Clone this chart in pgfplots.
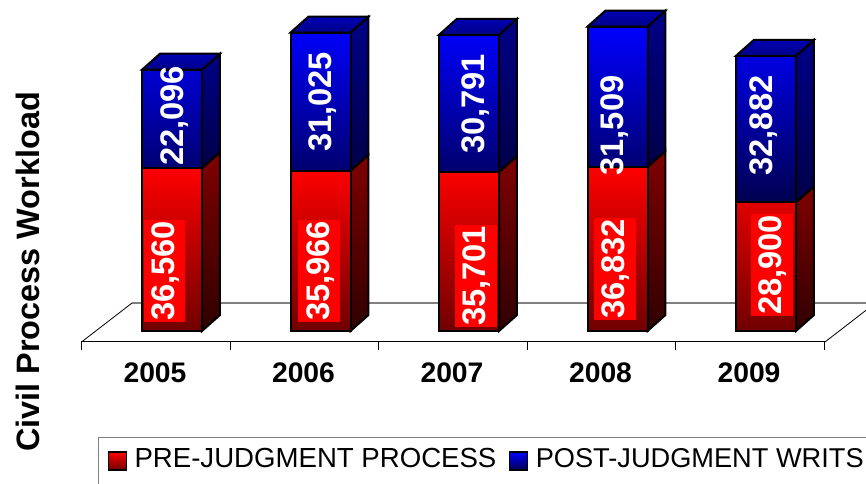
\documentclass[border=0pt]{standalone}
\usepackage{fontspec}
\setmainfont{Liberation Sans}
\usepackage{pgfplots}
\pgfplotsset{compat=1.18}
\usepackage{pgfplotstable}

\definecolor{redtop}{HTML}{FF0000}
\definecolor{redmid}{HTML}{D00000}
\definecolor{redbot}{HTML}{700000}
\definecolor{redsidetop}{HTML}{800000}
\definecolor{redsidebot}{HTML}{300000}
\definecolor{bluetop}{HTML}{0000FF}
\definecolor{bluemid}{HTML}{0000B4}
\definecolor{bluebot}{HTML}{000050}
\definecolor{bluesidetop}{HTML}{000088}
\definecolor{bluesidebot}{HTML}{000048}

% front faces
\pgfplotstableread{
x red blue
0 36560 22096
1 35966 31025
2 35701 30791
3 36832 31509
4 28900 32882
}\civildata

% label positions (x, y) and printed value
\pgfplotstableread{
x y label
-0.049 13470 36,560
0.990 13470 35,966
2.047 12392 35,701
2.983 13919 36,832
4.040 14817 28,900
}\redlabels
\pgfplotstableread{
x y label
0.013 48268 22,096
1.006 51411 31,025
2.034 50962 30,791
2.976 46135 31,509
3.973 46135 32,882
}\bluelabels

\pgfplotsset{
  base/.style={
    scale only axis,
    width=557.6pt,
    height=256.5pt,
    xmin=-0.6094, xmax=4.397,
    ymin=-2470, ymax=74310,
    clip=false,
  },
  redside/.style={draw=black, line width=1.5pt, line join=miter, top color=redsidetop, bottom color=redsidebot, forget plot},
  blueside/.style={draw=black, line width=1.5pt, line join=miter, top color=bluesidetop, bottom color=bluesidebot, forget plot},
  bluecap/.style={draw=black, line width=1.5pt, line join=miter, top color=bluemid, bottom color=bluesidetop, forget plot},
  vlabel/.style={
    draw=none, mark=none, forget plot,
    point meta=explicit symbolic,
    nodes near coords,
    every node near coord/.style={
      anchor=center, rotate=90, text=white,
      font=\fontsize{24.5}{26}\bfseries\selectfont,
      text height=23pt, text depth=8pt, inner xsep=0pt, inner ysep=0pt,
      text width=76.5pt, align=center, #1
    },
  },
}

\begin{document}
\begin{tikzpicture}
\useasboundingbox (-61.125pt,-106.5pt) rectangle (588.375pt,256.5pt);

% floor and the depth of the bars
\begin{axis}[base, hide axis]
\addplot[gray, line width=0.8pt, forget plot] coordinates {(-0.269,6286) (4.737,6286)};
\addplot[black, line width=0.6pt, forget plot] coordinates {(-0.6094,-2470) (-0.269,6286)};
\addplot[black, line width=0.6pt, forget plot] coordinates {(4.397,-2470) (4.737,6286)};

\addplot[redside] coordinates {(0.202,0) (0.323,3592) (0.323,40152) (0.202,36560)} -- cycle;
\addplot[redside] coordinates {(1.202,0) (1.323,3592) (1.323,39558) (1.202,35966)} -- cycle;
\addplot[redside] coordinates {(2.202,0) (2.323,3592) (2.323,39293) (2.202,35701)} -- cycle;
\addplot[redside] coordinates {(3.202,0) (3.323,3592) (3.323,40424) (3.202,36832)} -- cycle;
\addplot[redside] coordinates {(4.202,0) (4.323,3592) (4.323,32492) (4.202,28900)} -- cycle;

\addplot[blueside] coordinates {(0.202,36560) (0.323,40152) (0.323,62248) (0.202,58656)} -- cycle;
\addplot[blueside] coordinates {(1.202,35966) (1.323,39558) (1.323,70583) (1.202,66991)} -- cycle;
\addplot[blueside] coordinates {(2.202,35701) (2.323,39293) (2.323,70084) (2.202,66492)} -- cycle;
\addplot[blueside] coordinates {(3.202,36832) (3.323,40424) (3.323,71933) (3.202,68341)} -- cycle;
\addplot[blueside] coordinates {(4.202,28900) (4.323,32492) (4.323,65374) (4.202,61782)} -- cycle;

\addplot[bluecap] coordinates {(-0.202,58656) (-0.081,62248) (0.323,62248) (0.202,58656)} -- cycle;
\addplot[bluecap] coordinates {(0.798,66991) (0.919,70583) (1.323,70583) (1.202,66991)} -- cycle;
\addplot[bluecap] coordinates {(1.798,66492) (1.919,70084) (2.323,70084) (2.202,66492)} -- cycle;
\addplot[bluecap] coordinates {(2.798,68341) (2.919,71933) (3.323,71933) (3.202,68341)} -- cycle;
\addplot[bluecap] coordinates {(3.798,61782) (3.919,65374) (4.323,65374) (4.202,61782)} -- cycle;
\end{axis}

% stacked front faces, x axis and legend
\begin{axis}[base,
  ybar stacked,
  bar width=45pt,
  axis x line*=bottom,
  axis y line*=left,
  y axis line style={draw=none},
  ytick=\empty,
  x axis line style={-, line width=0.75pt, black},
  xtick={0,1,2,3,4},
  xticklabels={2005,2006,2007,2008,2009},
  major tick length=0pt,
  minor xtick={-0.6094,0.3906,1.3906,2.3906,3.3906,4.3906},
  minor tick length=6pt,
  tick align=outside,
  tick style={black, line width=0.75pt},
  xticklabel style={font=\fontsize{21.2}{24}\bfseries\selectfont, yshift=-11.75pt, xshift=-12.75pt},
  ylabel={Civil Process Workload},
  every axis y label/.style={
    at={(axis description cs:-0.072,0.205)}, rotate=90, anchor=center,
    font=\fontsize{24.3}{26}\bfseries\selectfont},
  legend style={
    at={(axis description cs:0.0222,-0.277)}, anchor=north west,
    draw=gray, line width=0.8pt,
    legend columns=2,
    font=\fontsize{20.7}{24}\selectfont,
    inner xsep=7pt, inner ysep=6.5pt,
    nodes={text depth=8pt},
    /tikz/every odd column/.append style={column sep=3.5pt},
    /tikz/every even column/.append style={column sep=7.5pt},
  },
  legend cell align=left,
  legend image code/.code={
    \path[#1, line width=1pt] (0pt,-4.75pt) rectangle (13.5pt,8.75pt);
  },
]
\addplot[draw=black, line width=1.5pt, top color=redtop, middle color=redmid, bottom color=redbot]
  table[x=x, y=red] {\civildata};
\addplot[draw=black, line width=1.5pt, top color=bluetop, middle color=bluemid, bottom color=bluebot]
  table[x=x, y=blue] {\civildata};
\legend{PRE-JUDGMENT PROCESS, {\fontsize{20.4}{24}\selectfont POST-JUDGMENT WRITS}}
\end{axis}

% values written on the bars
\begin{axis}[base, hide axis]
\addplot[vlabel={fill=red}] table[x=x, y=y, meta=label] {\redlabels};
\addplot[vlabel={}] table[x=x, y=y, meta=label] {\bluelabels};
\end{axis}
\end{tikzpicture}
\end{document}
